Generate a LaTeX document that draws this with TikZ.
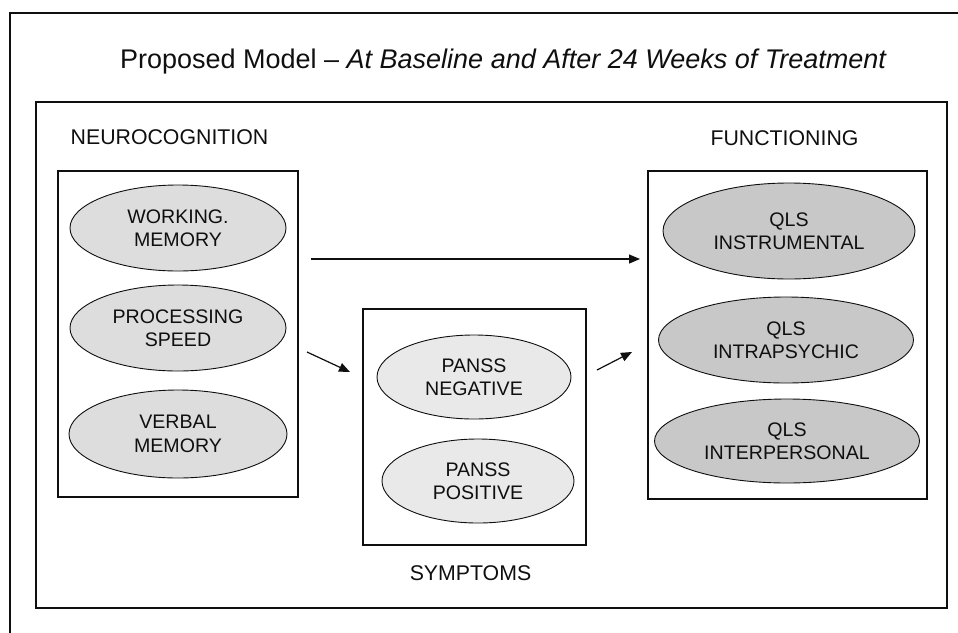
\documentclass[tikz,border=0pt]{standalone}
\usepackage{fontspec}
\setmainfont{Liberation Sans}
\usetikzlibrary{shapes.geometric,arrows.meta}
\definecolor{lgray}{RGB}{221,221,221}
\definecolor{dgray}{RGB}{200,200,200}
\definecolor{pgray}{RGB}{233,233,233}
\definecolor{ink}{RGB}{15,15,15}
\begin{document}
\begin{tikzpicture}[x=1pt,y=-1pt,
  ell/.style={ellipse, draw=ink, line width=0.9pt, inner sep=0pt, align=center,
    font=\fontsize{19.6}{23.5}\selectfont, text=ink},
  boxst/.style={rectangle, draw=ink, line width=1.2pt, inner sep=0pt},
  lbl/.style={anchor=base, font=\fontsize{21.3}{25}\selectfont, text=ink, inner sep=0pt},
  arr/.style={draw=ink, line width=1.2pt, -{Triangle[length=11pt,width=9pt]}}]
\useasboundingbox (0,0) rectangle (958,632);
% outer frame (partly outside the page)
\draw[ink, line width=1.6pt] (960,13) -- (10,13) -- (10,640);
% title
\node[anchor=base, inner sep=0pt, font=\fontsize{27}{32}\selectfont, text=ink] (title) at (503.5,68)
  {Proposed Model -- \textit{At Baseline and After 24 Weeks of Treatment}};
% inner frame
\node[boxst, line width=1.5pt, minimum width=911pt, minimum height=506pt] (frame) at (491.5,355) {};
% group boxes
\node[boxst, minimum width=240pt, minimum height=326pt] (lbox) at (178,334) {};
\node[boxst, minimum width=279pt, minimum height=328pt] (rbox) at (787.5,335) {};
\node[boxst, minimum width=223pt, minimum height=236pt] (mbox) at (474.5,427) {};
% group labels
\node[lbl] (neuro) at (169.5,144.5) {NEUROCOGNITION};
\node[lbl] (func) at (784.5,145) {FUNCTIONING};
\node[lbl] (symp) at (470.5,580) {SYMPTOMS};
% neurocognition ellipses
\node[ell, fill=lgray, minimum width=216pt, minimum height=86pt] (wm) at (178,228) {WORKING.\\MEMORY};
\node[ell, fill=lgray, minimum width=216pt, minimum height=86pt] (ps) at (178,328) {PROCESSING\\SPEED};
\node[ell, fill=lgray, minimum width=218pt, minimum height=88pt] (vm) at (178,434) {VERBAL\\MEMORY};
% functioning ellipses
\node[ell, fill=dgray, minimum width=252pt, minimum height=96pt] (qi) at (789,231) {QLS\\INSTRUMENTAL};
\node[ell, fill=dgray, minimum width=255pt, minimum height=86pt] (qp) at (786,340) {QLS\\INTRAPSYCHIC};
\node[ell, fill=dgray, minimum width=265pt, minimum height=84pt] (qe) at (787,441) {QLS\\INTERPERSONAL};
% symptoms ellipses
\node[ell, fill=pgray, minimum width=194pt, minimum height=84pt] (pn) at (474,377) {PANSS\\NEGATIVE};
\node[ell, fill=pgray, minimum width=192pt, minimum height=84pt] (pp) at (478,481) {PANSS\\POSITIVE};
% arrow end points
\coordinate (a1s) at (311,259);
\coordinate (a1e) at (640,259);
\coordinate (a2s) at (307,352);
\coordinate (a2e) at (350,372);
\coordinate (a3s) at (597,370);
\coordinate (a3e) at (632,352);
\draw[arr] (a1s) -- (a1e);
\draw[arr] (a2s) -- (a2e);
\draw[arr] (a3s) -- (a3e);
\end{tikzpicture}
\end{document}
